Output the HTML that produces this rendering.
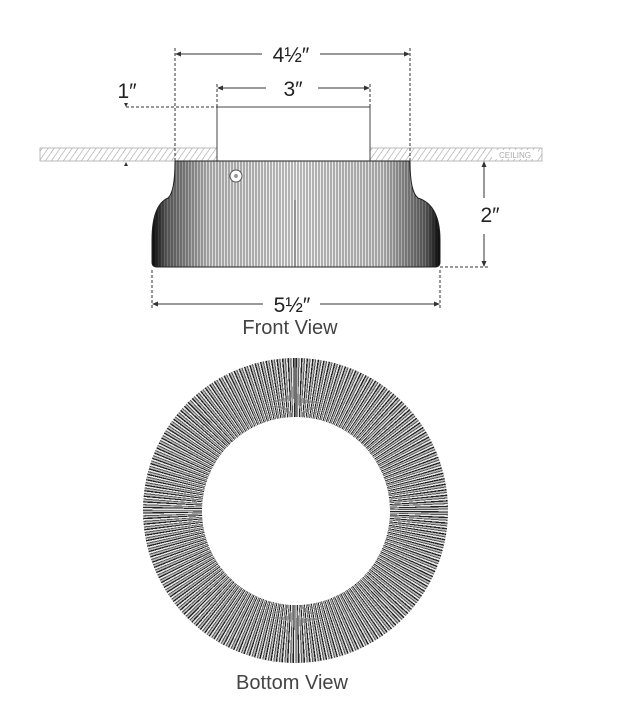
<!DOCTYPE html>
<html><head><meta charset="utf-8"><style>
html,body{margin:0;padding:0;background:#fff;}
body{width:620px;height:718px;position:relative;overflow:hidden;font-family:"Liberation Sans",sans-serif;}
.ring{position:absolute;left:143px;top:358px;width:305px;height:305px;border-radius:50%;
background:repeating-conic-gradient(#222 0deg 0.5deg,#bbb 0.5deg 1.1deg,#555 1.1deg 1.5deg,#e8e8e8 1.5deg 2.1deg);}
.hole{position:absolute;left:202px;top:417px;width:188px;height:188px;border-radius:50%;background:#fff;}
</style></head><body>
<div class="ring"></div><div class="hole"></div>
<svg width="620" height="718" style="position:absolute;left:0;top:0">
<defs>
<pattern id="hatch" width="6" height="13" patternUnits="userSpaceOnUse" patternTransform="skewX(-35)">
<line x1="2" y1="0" x2="2" y2="13" stroke="#aaa" stroke-width="0.8"/></pattern>
<pattern id="vl" width="3" height="10" patternUnits="userSpaceOnUse">
<rect width="3" height="10" fill="#f4f4f4"/><line x1="1" y1="0" x2="1" y2="10" stroke="#666" stroke-width="0.9"/></pattern>
<linearGradient id="sh" x1="0" x2="1" y1="0" y2="0">
<stop offset="0" stop-color="#000" stop-opacity="0.95"/>
<stop offset="0.05" stop-color="#000" stop-opacity="0.55"/>
<stop offset="0.2" stop-color="#000" stop-opacity="0.1"/>
<stop offset="0.5" stop-color="#000" stop-opacity="0"/>
<stop offset="0.8" stop-color="#000" stop-opacity="0.1"/>
<stop offset="0.95" stop-color="#000" stop-opacity="0.55"/>
<stop offset="1" stop-color="#000" stop-opacity="0.95"/>
</linearGradient>
</defs>
<rect x="40" y="148" width="177" height="13" fill="url(#hatch)" stroke="#aaa" stroke-width="0.8"/>
<rect x="370" y="148" width="172" height="13" fill="url(#hatch)" stroke="#aaa" stroke-width="0.8"/>
<rect x="492" y="150" width="46" height="9" fill="#fff"/>
<text x="515" y="158" font-size="8" fill="#aaa" text-anchor="middle">CEILING</text>
<rect x="217" y="107" width="153" height="54" fill="#fff" stroke="#444" stroke-width="1"/>
<path d="M175,161 L410,161 Q410,192 418,198 Q440,205 440,240 L440,262 Q440,267 435,267 L157,267 Q152,267 152,262 L152,240 Q152,205 168,198 Q175,192 175,161 Z" fill="url(#vl)"/>
<path d="M175,161 L410,161 Q410,192 418,198 Q440,205 440,240 L440,262 Q440,267 435,267 L157,267 Q152,267 152,262 L152,240 Q152,205 168,198 Q175,192 175,161 Z" fill="url(#sh)" stroke="#222" stroke-width="1"/>
<line x1="295" y1="200" x2="295" y2="267" stroke="#333" stroke-width="1"/>
<circle cx="236" cy="176" r="6" fill="#fff" stroke="#555"/><circle cx="236" cy="176" r="2" fill="#999"/>
<g stroke="#333" stroke-width="1" fill="none">
<line x1="175" y1="48" x2="175" y2="161" stroke-dasharray="3,2"/>
<line x1="410" y1="48" x2="410" y2="161" stroke-dasharray="3,2"/>
<line x1="178" y1="54" x2="262" y2="54"/><line x1="320" y1="54" x2="407" y2="54"/>
<line x1="217" y1="84" x2="217" y2="107" stroke-dasharray="3,2"/>
<line x1="370" y1="84" x2="370" y2="107" stroke-dasharray="3,2"/>
<line x1="220" y1="88" x2="266" y2="88"/><line x1="318" y1="88" x2="367" y2="88"/>
<line x1="126" y1="107" x2="217" y2="107" stroke-dasharray="3,2"/>
<line x1="152" y1="270" x2="152" y2="308" stroke-dasharray="3,2"/>
<line x1="440" y1="270" x2="440" y2="308" stroke-dasharray="3,2"/>
<line x1="155" y1="304" x2="263" y2="304"/><line x1="320" y1="304" x2="437" y2="304"/>
<line x1="440" y1="267" x2="490" y2="267" stroke-dasharray="3,2"/>
<line x1="484" y1="164" x2="484" y2="198"/><line x1="484" y1="234" x2="484" y2="263"/>
</g>
<g fill="#333">
<path d="M175,54 l6,-2.5 v5z"/><path d="M410,54 l-6,-2.5 v5z"/>
<path d="M217,88 l6,-2.5 v5z"/><path d="M370,88 l-6,-2.5 v5z"/>
<path d="M152,304 l6,-2.5 v5z"/><path d="M440,304 l-6,-2.5 v5z"/>
<path d="M484,161 l-2.5,6 h5z"/><path d="M484,267 l-2.5,-6 h5z"/>
<path d="M126,107 l-2,-4 h4z"/><path d="M126,162 l-2,4 h4z"/>
</g>
<g font-size="21" fill="#222" text-anchor="middle">
<text x="291" y="62">4½″</text>
<text x="293" y="96">3″</text>
<text x="127" y="98">1″</text>
<text x="490" y="222">2″</text>
<text x="292" y="312">5½″</text>
<text x="290" y="334" fill="#444" font-size="20">Front View</text>
<text x="292" y="689" fill="#444" font-size="20">Bottom View</text>
</g>
</svg>
</body></html>
